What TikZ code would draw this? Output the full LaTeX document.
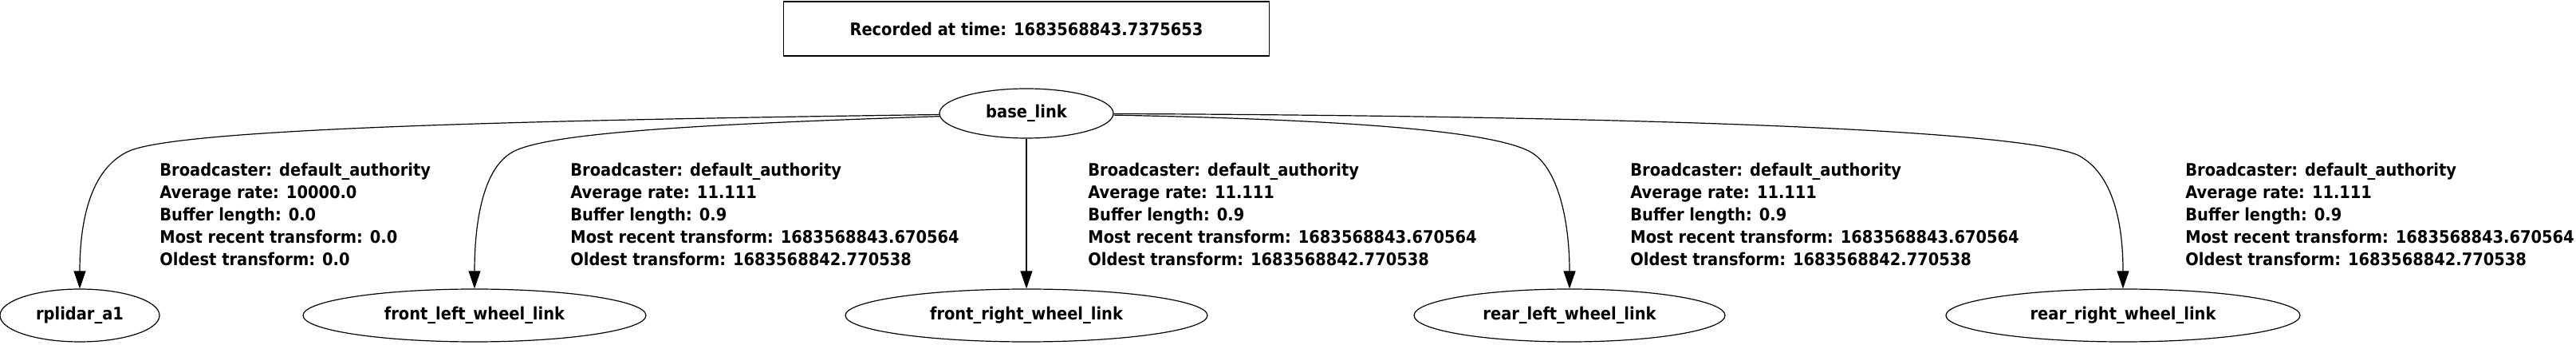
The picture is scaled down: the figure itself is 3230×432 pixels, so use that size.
\documentclass[tikz,border=0pt]{standalone}
\usepackage{fontspec}
\setmainfont{DejaVu Sans Condensed}
\usetikzlibrary{shapes.geometric,arrows.meta}
\begin{document}
\begin{tikzpicture}[x=0.5pt,y=-0.5pt,
  txt/.style={font=\bfseries\fontsize{10.8}{13.9}\selectfont},
  nd/.style={txt,draw,ellipse,minimum width=#1,minimum height=33pt,inner sep=0pt,line width=0.6pt},
  lbl/.style={txt,anchor=north west,align=left,inner sep=0pt},
  edge/.style={line width=0.6pt,-{Triangle[length=11pt,width=7.5pt]}}]
\useasboundingbox (0,0) rectangle (3230,432);
\node[txt,draw,line width=0.6pt,minimum width=304.5pt,minimum height=34pt] (t) at (1287,36) {Recorded at time: 1683568843.7375653};
\node[txt,draw,ellipse,minimum width=109pt,minimum height=31pt,inner sep=0pt,line width=0.6pt] (b) at (1287,142) {base\_link};
\node[nd=100pt] (r) at (100,395) {rplidar\_a1};
\node[nd=215pt] (fl) at (595,395) {front\_left\_wheel\_link};
\node[nd=227pt] (fr) at (1287,395) {front\_right\_wheel\_link};
\node[nd=195pt] (rl) at (1968,395) {rear\_left\_wheel\_link};
\node[nd=222pt] (rr) at (2662,395) {rear\_right\_wheel\_link};
\draw[edge] (b) .. controls (700,150) and (220,160) .. (160,190) .. controls (112,213) and (100,280) .. (r);
\draw[edge] (b) .. controls (900,155) and (680,165) .. (640,192) .. controls (605,214) and (595,280) .. (fl);
\draw[edge] (b) -- (fr);
\draw[edge] (b) .. controls (1700,150) and (1880,165) .. (1922,192) .. controls (1955,214) and (1968,280) .. (rl);
\draw[edge] (b) .. controls (2000,145) and (2520,160) .. (2605,194) .. controls (2650,217) and (2662,280) .. (rr);
\node[lbl] (l1) at (200,204) {Broadcaster: default\_authority\\Average rate: 10000.0\\Buffer length: 0.0\\Most recent transform: 0.0\\Oldest transform: 0.0};
\node[lbl] (l2) at (715,204) {Broadcaster: default\_authority\\Average rate: 11.111\\Buffer length: 0.9\\Most recent transform: 1683568843.670564\\Oldest transform: 1683568842.770538};
\node[lbl] (l3) at (1364,204) {Broadcaster: default\_authority\\Average rate: 11.111\\Buffer length: 0.9\\Most recent transform: 1683568843.670564\\Oldest transform: 1683568842.770538};
\node[lbl] (l4) at (2044,204) {Broadcaster: default\_authority\\Average rate: 11.111\\Buffer length: 0.9\\Most recent transform: 1683568843.670564\\Oldest transform: 1683568842.770538};
\node[lbl] (l5) at (2740,204) {Broadcaster: default\_authority\\Average rate: 11.111\\Buffer length: 0.9\\Most recent transform: 1683568843.670564\\Oldest transform: 1683568842.770538};
\end{tikzpicture}
\end{document}
